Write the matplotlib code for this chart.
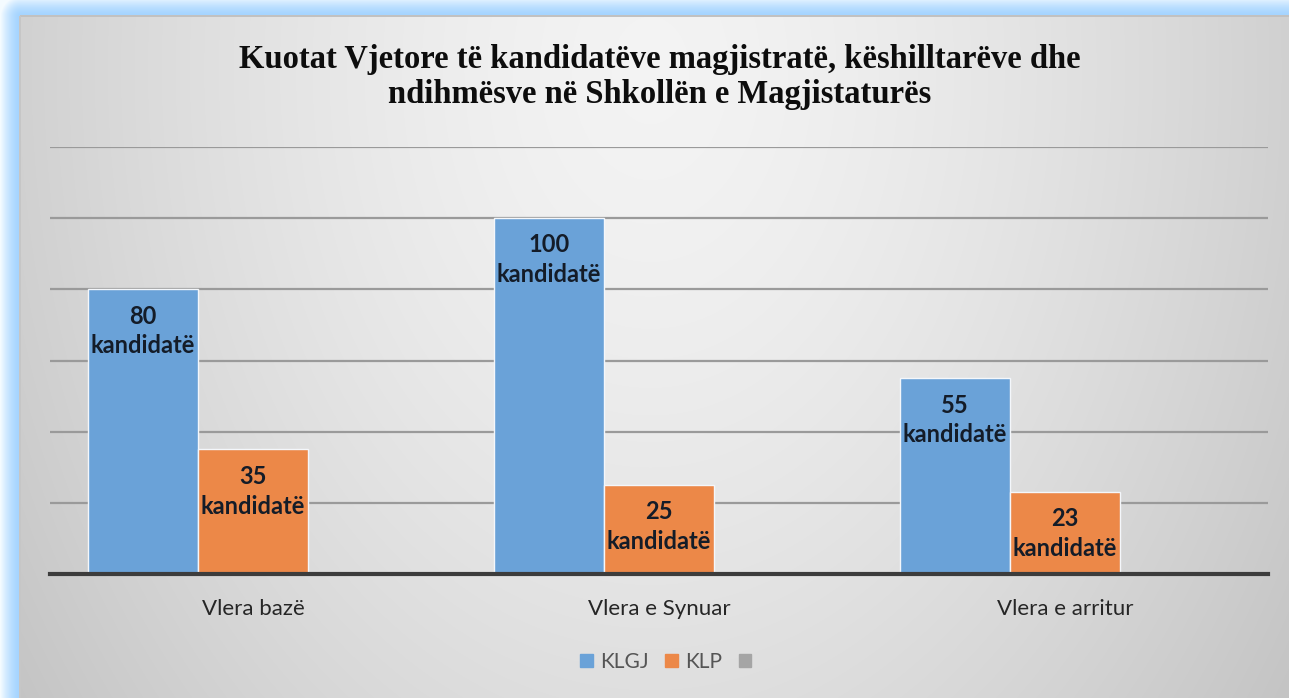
import matplotlib.pyplot as plt
import numpy as np
from matplotlib.patches import Rectangle

W, H = 1289, 698

title = "Kuotat Vjetore të kandidatëve magjistratë, këshilltarëve dhe\nndihmësve në Shkollën e Magjistaturës"
categories = ["Vlera bazë", "Vlera e Synuar", "Vlera e arritur"]
series_names = ["KLGJ", "KLP", ""]
klgj = [80, 100, 55]
klp = [35, 25, 23]
third = [np.nan, np.nan, np.nan]
series_values = [klgj, klp, third]
colors = ["#6aa2d8", "#ec8848", "#a5a5a5"]
label_suffix = "kandidatë"


def make_background():
    yy, xx = np.mgrid[0:H, 0:W].astype(float)
    img = np.ones((H, W, 3))
    # blue glow outside the chart box
    dx = np.clip(20 - xx, 0, None)
    dy = np.clip(16 - yy, 0, None)
    d = np.sqrt(dx ** 2 + dy ** 2)
    t = np.clip(d / 20.0, 0, 1) ** 1.6
    blue = np.array([0.64, 0.83, 1.0])
    white = np.array([0.96, 0.985, 1.0])
    glow = blue[None, None, :] * (1 - t[..., None]) + white[None, None, :] * t[..., None]
    # gray radial gradient inside the box
    r = np.sqrt(((xx - 650) / 720.0) ** 2 + ((yy - 70) / 1000.0) ** 2)
    c = np.clip(0.955 - 0.165 * r ** 1.5, 0.72, 1)
    inside = (xx >= 20) & (yy >= 16)
    img[:] = glow
    img[inside] = np.stack([c, c, c], axis=-1)[inside]
    # thin darker edge along the top and left of the box
    img[15:17, 20:] = 0.76
    img[16:, 19:21] = 0.78
    return img


fig = plt.figure(figsize=(W / 100, H / 100), dpi=100)
bg = fig.add_axes([0, 0, 1, 1], zorder=-5)
bg.imshow(make_background(), aspect="auto", extent=[0, W, H, 0])
bg.set_axis_off()

ax = fig.add_axes([50 / W, 1 - 574 / H, (1268 - 50) / W, (574 - 147) / H])
ax.patch.set_alpha(0)

x = np.arange(len(categories))
width = 0.271
for i, (vals, col) in enumerate(zip(series_values, colors)):
    pos = x + (i - 1) * width
    ax.bar(pos, vals, width, color=col, edgecolor="#f4f7fb", linewidth=1.0, zorder=3)
    if i < 2:
        for xp, v in zip(pos, vals):
            ax.annotate(f"{v}\n{label_suffix}", (xp, v), xytext=(0, -11), textcoords="offset points",
                        ha="center", va="top", fontsize=17, fontweight="bold", family="Lato",
                        color="#141c28", linespacing=1.36, zorder=5)

ax.set_xlim(-0.5, 2.5)
ax.set_ylim(0, 120)
ax.set_yticks(np.arange(20, 121, 20))
ax.yaxis.grid(True, color="#9a9a9a", linewidth=1.6, zorder=0)
ax.tick_params(axis="y", left=False, labelleft=False)
ax.set_xticks(x)
ax.set_xticklabels(categories, fontsize=16, family="Lato", color="#262626")
ax.tick_params(axis="x", length=0, pad=18)
for s in ["top", "right", "left"]:
    ax.spines[s].set_visible(False)
ax.spines["bottom"].set_color("#3c3c3c")
ax.spines["bottom"].set_linewidth(3)
ax.spines["bottom"].set_zorder(6)

fig.text(660 / W, 1 - 77 / H, title, ha="center", va="center", fontsize=23.5,
         fontweight="bold", family="Liberation Serif", color="#0d0d0d", linespacing=1.2)

handles = [Rectangle((0, 0), 1, 1, color=c) for c in colors]
fig.legend(handles, [n if n else " " for n in series_names], loc="center",
           bbox_to_anchor=(672 / W, 1 - 662 / H), ncol=3, frameon=False,
           prop={"family": "Lato", "size": 15}, labelcolor="#555555",
           handlelength=0.6, handleheight=0.6, handletextpad=0.35, columnspacing=0.8)

fig.savefig("out.png", dpi=100)
